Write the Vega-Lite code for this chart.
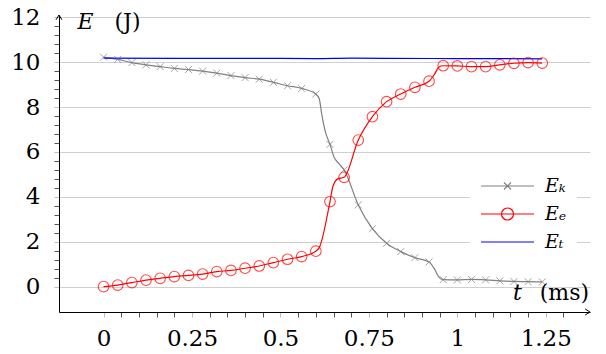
{
  "$schema": "https://vega.github.io/schema/vega-lite/v6.json",
  "width": 531,
  "height": 297,
  "autosize": {"type": "none"},
  "padding": {"left": 59, "top": 15, "right": 16, "bottom": 42},
  "background": "white",
  "config": {
    "view": {"stroke": null},
    "axis": {"labelOverlap": false, "labelFlush": false, "title": null, "domainColor": "black", "domainWidth": 1, "tickCount": 200,
      "tickSize": 5, "tickWidth": 1, "labelFont": "DejaVu Serif", "labelFontSize": 23, "labelColor": "black"},
    "axisX": {"grid": false, "labelPadding": 10},
    "axisY": {"grid": true, "gridColor": "#cfcfcf", "gridWidth": 1, "labelPadding": 14}
  },
  "data": {"values": [
    {"t":0,"E":10.22,"s":"E_k","m":1},{"t":0.04,"E":10.12,"s":"E_k","m":1},{"t":0.08,"E":9.98,"s":"E_k","m":1},{"t":0.12,"E":9.88,"s":"E_k","m":1},
    {"t":0.16,"E":9.8,"s":"E_k","m":1},{"t":0.2,"E":9.72,"s":"E_k","m":1},{"t":0.24,"E":9.67,"s":"E_k","m":1},{"t":0.28,"E":9.6,"s":"E_k","m":1},
    {"t":0.32,"E":9.51,"s":"E_k","m":1},{"t":0.36,"E":9.4,"s":"E_k","m":1},{"t":0.4,"E":9.31,"s":"E_k","m":1},{"t":0.44,"E":9.24,"s":"E_k","m":1},
    {"t":0.48,"E":9.1,"s":"E_k","m":1},{"t":0.52,"E":8.95,"s":"E_k","m":1},{"t":0.56,"E":8.83,"s":"E_k","m":1},{"t":0.6,"E":8.58,"s":"E_k","m":1},
    {"t":0.61,"E":8.35,"s":"E_k","m":0},{"t":0.616,"E":7.75,"s":"E_k","m":0},{"t":0.626,"E":6.95,"s":"E_k","m":0},
    {"t":0.64,"E":6.34,"s":"E_k","m":1},{"t":0.652,"E":5.75,"s":"E_k","m":0},{"t":0.664,"E":5.5,"s":"E_k","m":0},
    {"t":0.68,"E":5.2,"s":"E_k","m":1},{"t":0.72,"E":3.64,"s":"E_k","m":1},{"t":0.76,"E":2.58,"s":"E_k","m":1},{"t":0.8,"E":1.93,"s":"E_k","m":1},
    {"t":0.84,"E":1.56,"s":"E_k","m":1},{"t":0.88,"E":1.29,"s":"E_k","m":1},{"t":0.92,"E":1.1,"s":"E_k","m":1},
    {"t":0.935,"E":0.8,"s":"E_k","m":0},{"t":0.948,"E":0.42,"s":"E_k","m":0},
    {"t":0.96,"E":0.31,"s":"E_k","m":1},{"t":1,"E":0.3,"s":"E_k","m":1},{"t":1.04,"E":0.32,"s":"E_k","m":1},{"t":1.08,"E":0.3,"s":"E_k","m":1},
    {"t":1.12,"E":0.26,"s":"E_k","m":1},{"t":1.16,"E":0.23,"s":"E_k","m":1},{"t":1.2,"E":0.22,"s":"E_k","m":1},{"t":1.24,"E":0.21,"s":"E_k","m":1},

    {"t":0,"E":0,"s":"E_e","m":1},{"t":0.04,"E":0.07,"s":"E_e","m":1},{"t":0.08,"E":0.18,"s":"E_e","m":1},{"t":0.12,"E":0.29,"s":"E_e","m":1},
    {"t":0.16,"E":0.37,"s":"E_e","m":1},{"t":0.2,"E":0.45,"s":"E_e","m":1},{"t":0.24,"E":0.5,"s":"E_e","m":1},{"t":0.28,"E":0.56,"s":"E_e","m":1},
    {"t":0.32,"E":0.67,"s":"E_e","m":1},{"t":0.36,"E":0.72,"s":"E_e","m":1},{"t":0.4,"E":0.82,"s":"E_e","m":1},{"t":0.44,"E":0.92,"s":"E_e","m":1},
    {"t":0.48,"E":1.07,"s":"E_e","m":1},{"t":0.52,"E":1.22,"s":"E_e","m":1},{"t":0.56,"E":1.34,"s":"E_e","m":1},{"t":0.6,"E":1.58,"s":"E_e","m":1},
    {"t":0.61,"E":1.75,"s":"E_e","m":0},
    {"t":0.64,"E":3.79,"s":"E_e","m":1},{"t":0.648,"E":4.45,"s":"E_e","m":0},{"t":0.662,"E":4.8,"s":"E_e","m":0},
    {"t":0.68,"E":4.87,"s":"E_e","m":1},{"t":0.72,"E":6.53,"s":"E_e","m":1},{"t":0.76,"E":7.57,"s":"E_e","m":1},{"t":0.8,"E":8.24,"s":"E_e","m":1},
    {"t":0.84,"E":8.58,"s":"E_e","m":1},{"t":0.88,"E":8.88,"s":"E_e","m":1},{"t":0.92,"E":9.15,"s":"E_e","m":1},
    {"t":0.935,"E":9.45,"s":"E_e","m":0},{"t":0.948,"E":9.78,"s":"E_e","m":0},
    {"t":0.96,"E":9.84,"s":"E_e","m":1},{"t":1,"E":9.83,"s":"E_e","m":1},{"t":1.04,"E":9.8,"s":"E_e","m":1},{"t":1.08,"E":9.8,"s":"E_e","m":1},
    {"t":1.12,"E":9.88,"s":"E_e","m":1},{"t":1.16,"E":9.95,"s":"E_e","m":1},{"t":1.2,"E":9.98,"s":"E_e","m":1},{"t":1.24,"E":9.96,"s":"E_e","m":1},

    {"t":0,"E":10.18,"s":"E_t","m":0},{"t":0.2,"E":10.17,"s":"E_t","m":0},{"t":0.4,"E":10.17,"s":"E_t","m":0},{"t":0.6,"E":10.16,"s":"E_t","m":0},
    {"t":0.7,"E":10.18,"s":"E_t","m":0},{"t":0.8,"E":10.17,"s":"E_t","m":0},{"t":1,"E":10.16,"s":"E_t","m":0},{"t":1.24,"E":10.15,"s":"E_t","m":0}
  ]},
  "layer": [
    {
      "mark": {"type": "line", "strokeWidth": 1.2, "interpolate": "monotone"},
      "encoding": {
        "x": {"field": "t", "type": "quantitative", "title": null,
          "scale": {"domain": [-0.126, 1.375], "nice": false, "zero": false},
          "axis": {"tickCount": 200,
            "values": [0,0.05,0.1,0.15,0.2,0.25,0.3,0.35,0.4,0.45,0.5,0.55,0.6,0.65,0.7,0.75,0.8,0.85,0.9,0.95,1,1.05,1.1,1.15,1.2,1.25,1.3],
            "format": "~g",
            "labelExpr": "indexof([0,0.25,0.5,0.75,1,1.25], datum.value) >= 0 ? datum.label : ''",
            "tickColor": {"condition": {"test": "indexof([0,0.25,0.5,0.75,1,1.25], datum.value) >= 0", "value": "#bdbdbd"}, "value": "#555555"}}},
        "y": {"field": "E", "type": "quantitative", "title": null,
          "scale": {"domain": [-1.13, 12.1], "nice": false, "zero": false},
          "axis": {"tickCount": 200,
            "values": [0,0.4,0.8,1.2,1.6,2,2.4,2.8,3.2,3.6,4,4.4,4.8,5.2,5.6,6,6.4,6.8,7.2,7.6,8,8.4,8.8,9.2,9.6,10,10.4,10.8,11.2,11.6,12],
            "format": "~g",
            "labelExpr": "datum.value % 2 === 0 ? datum.label : ''",
            "gridOpacity": {"condition": {"test": "datum.value % 2 === 0", "value": 1}, "value": 0},
            "tickColor": {"condition": {"test": "datum.value % 2 === 0", "value": "#bdbdbd"}, "value": "#555555"}}},
        "color": {"field": "s", "type": "nominal",
          "scale": {"domain": ["E_k", "E_e", "E_t"], "range": ["#808080", "#ff0000", "#0000ff"]},
          "legend": {"title": null, "orient": "none", "legendX": 411, "legendY": 150,
            "fillColor": "white", "padding": 10, "rowPadding": 7,
            "symbolSize": 400, "symbolStrokeWidth": 1.2, "symbolType": "stroke",
            "labelFont": "DejaVu Serif", "labelFontStyle": "italic", "labelFontSize": 19, "labelColor": "black", "labelOffset": 43,
            "labelExpr": "datum.label === 'E_k' ? 'Eₖ' : datum.label === 'E_e' ? 'Eₑ' : 'Eₜ'",
            "encode": {"symbols": {"update": {
              "shape": {"signal": "datum.value === 'E_k' ? 'M-1,0H4.3M1.3,-0.35L2,0.35M1.3,0.35L2,-0.35' : datum.value === 'E_e' ? 'M-1,0H4.3M1.05,0A0.6,0.6,0,1,1,2.25,0A0.6,0.6,0,1,1,1.05,0' : 'M-1,0H4.3'"},
              "fill": {"value": "transparent"}}}}}}
      }
    },
    {
      "transform": [{"filter": "datum.s === 'E_k' && datum.m === 1"}],
      "mark": {"type": "point", "shape": "M-1,-1L1,1M-1,1L1,-1", "size": 49, "stroke": "#808080", "strokeWidth": 1, "filled": false},
      "encoding": {
        "x": {"field": "t", "type": "quantitative", "title": null},
        "y": {"field": "E", "type": "quantitative", "title": null}
      }
    },
    {
      "transform": [{"filter": "datum.s === 'E_e' && datum.m === 1"}],
      "mark": {"type": "point", "shape": "circle", "size": 113, "stroke": "#ff0000", "strokeWidth": 1.1, "filled": false},
      "encoding": {
        "x": {"field": "t", "type": "quantitative", "title": null},
        "y": {"field": "E", "type": "quantitative", "title": null}
      }
    },
    {
      "data": {"values": [{}]},
      "mark": {"type": "text", "text": "E", "font": "DejaVu Serif", "fontStyle": "italic", "fontSize": 22, "align": "left", "baseline": "alphabetic", "color": "black"},
      "encoding": {"x": {"datum": -0.0735, "type": "quantitative", "title": null}, "y": {"datum": 11.48, "type": "quantitative", "title": null}}
    },
    {
      "data": {"values": [{}]},
      "mark": {"type": "text", "text": "(J)", "font": "DejaVu Serif", "fontSize": 22, "align": "left", "baseline": "alphabetic", "color": "black"},
      "encoding": {"x": {"datum": 0.031, "type": "quantitative", "title": null}, "y": {"datum": 11.48, "type": "quantitative", "title": null}}
    },
    {
      "data": {"values": [{}]},
      "mark": {"type": "text", "text": "t", "font": "DejaVu Serif", "fontStyle": "italic", "fontSize": 22, "align": "left", "baseline": "alphabetic", "color": "black"},
      "encoding": {"x": {"datum": 1.157, "type": "quantitative", "title": null}, "y": {"datum": -0.59, "type": "quantitative", "title": null}}
    },
    {
      "data": {"values": [{}]},
      "mark": {"type": "text", "text": "(ms)", "font": "DejaVu Serif", "fontSize": 22, "align": "left", "baseline": "alphabetic", "color": "black"},
      "encoding": {"x": {"datum": 1.233, "type": "quantitative", "title": null}, "y": {"datum": -0.59, "type": "quantitative", "title": null}}
    },
    {
      "data": {"values": [{}]},
      "mark": {"type": "point", "shape": "M-1,1.6L0,0L1,1.6", "size": 36, "stroke": "black", "strokeWidth": 1, "filled": false, "opacity": 1},
      "encoding": {"x": {"datum": -0.126, "type": "quantitative", "title": null}, "y": {"datum": 12.1, "type": "quantitative", "title": null}}
    },
    {
      "data": {"values": [{}]},
      "mark": {"type": "point", "shape": "M-1.6,-1L0,0L-1.6,1", "size": 36, "stroke": "black", "strokeWidth": 1, "filled": false, "opacity": 1},
      "encoding": {"x": {"datum": 1.375, "type": "quantitative", "title": null}, "y": {"datum": -1.13, "type": "quantitative", "title": null}}
    }
  ]
}
